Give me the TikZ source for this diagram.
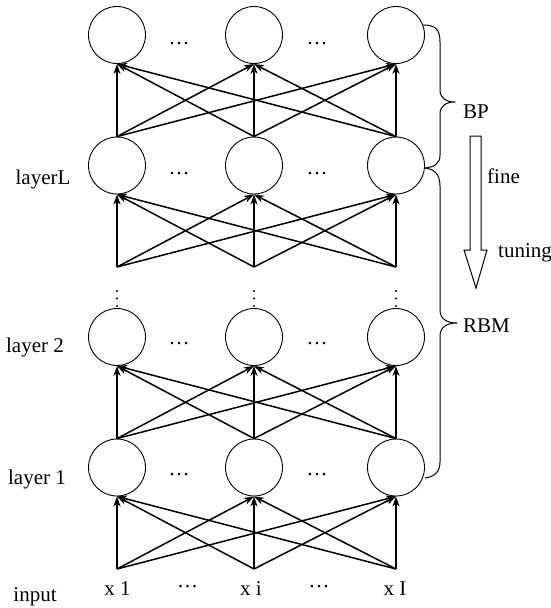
\documentclass[tikz,border=0pt]{standalone}
\usepackage{fontspec}
\setmainfont{Liberation Serif}
\usetikzlibrary{arrows.meta}
\tikzset{
  neuron/.style={circle, draw=black, line width=0.9pt, minimum size=57pt, inner sep=0pt},
  arr/.style={line width=1.5pt, -{Stealth[length=10pt,width=7pt,inset=3pt]}},
  lbl/.style={font=\fontsize{21}{25}\selectfont, inner sep=0pt, anchor=base},
  dotsn/.style={font=\fontsize{21}{25}\selectfont, inner sep=0pt, anchor=base},
  brace/.style={line width=1pt, line join=round},
  vdot/.style={fill=black, draw=none},
}
\begin{document}
\begin{tikzpicture}[x=1pt,y=-1pt]
\useasboundingbox (0,0) rectangle (551,608);
% neurons
\foreach \n/\x in {A/117,B/254,C/396}{
  \node[neuron] (t\n) at (\x,35) {};
  \node[neuron] (L\n) at (\x,165.5) {};
  \node[neuron] (b\n) at (\x,337) {};
  \node[neuron] (a\n) at (\x,467.5) {};
  \coordinate (p\n) at (\x,267);
  \coordinate (i\n) at (\x,569);
}
% connections
\foreach \s in {A,B,C}{
  \foreach \t in {A,B,C}{
    \draw[arr] (L\s.north) -- (t\t.south);
    \draw[arr] (p\s) -- (L\t.south);
    \draw[arr] (a\s.north) -- (b\t.south);
    \draw[arr] (i\s) -- (a\t.south);
  }
}
% horizontal ellipses
\foreach \y in {44,174,344,475}{
  \node[dotsn] (e1\y) at (179,\y) {…};
  \node[dotsn] (e2\y) at (317,\y) {…};
}
\node[dotsn] (ein1) at (187.5,587) {…};
\node[dotsn] (ein2) at (319,587) {…};
% vertical dots
\foreach \x in {117,254,396}{
  \foreach \y in {291,298.5,306}{
    \fill[vdot] (\x,\y) circle (1.1);
  }
}
% labels
\node[lbl] (lL) at (43,184) {layerL};
\node[lbl] (l2) at (35,352) {layer 2};
\node[lbl] (l1) at (37,484) {layer 1};
\node[lbl] (lin) at (35,601) {input};
\node[lbl] (x1) at (117.5,595) {x 1};
\node[lbl] (xi) at (251,595) {x i};
\node[lbl] (xI) at (395,595) {x I};
% BP brace
\draw[brace] (423,25) .. controls (436,25) and (440,30) .. (440,42)
  -- (440,90) .. controls (440,98) and (446,102) .. (455,102)
  .. controls (446,102) and (440,106) .. (440,114)
  -- (440,155) .. controls (440,164) and (434,167) .. (425,168);
% RBM brace
\draw[brace] (425,168) .. controls (434,169) and (440,174) .. (440,186)
  -- (440,310) .. controls (440,319) and (447,323) .. (457,323)
  .. controls (447,323) and (440,327) .. (440,336)
  -- (440,462) .. controls (440,472) and (434,477) .. (425,478);
\node[lbl, anchor=base west] (bp) at (463,118) {BP};
\node[lbl, anchor=base west] (rbm) at (463,332) {RBM};
% fine tuning arrow
\draw[line width=1pt, line join=miter, fill=white] (470,136) -- (481,136) -- (481,250) -- (487,250)
  -- (476,288) -- (464,250) -- (470,250) -- cycle;
\node[lbl, anchor=base west] (fine) at (487,183) {fine};
\node[lbl, anchor=base west] (tun) at (498,257) {tuning};
\end{tikzpicture}
\end{document}
